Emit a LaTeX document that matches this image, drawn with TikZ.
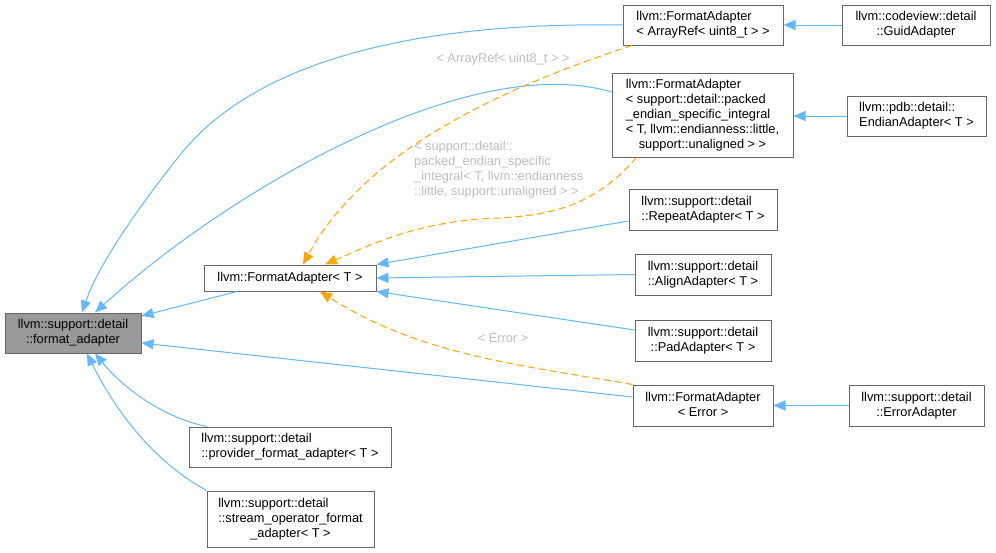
\documentclass[tikz,border=0pt]{standalone}
\usepackage{fontspec}
\setmainfont{Liberation Sans}
\usetikzlibrary{arrows.meta}
\definecolor{edgeblue}{HTML}{63B8FF}
\definecolor{edgeorange}{HTML}{FFA500}
\definecolor{boxline}{HTML}{666666}
\definecolor{labgray}{HTML}{BEBEBE}
\definecolor{rootfill}{HTML}{999999}
\newcommand{\mlab}[2]{\begin{tabular}{@{}l@{}}#1\\\multicolumn{1}{@{}c@{}}{#2}\end{tabular}}
\begin{document}
\begin{tikzpicture}[x=1pt,y=-1pt,
  cls/.style={draw=boxline, line width=1pt, fill=white, inner sep=0pt, font=\fontsize{12.8}{15}\selectfont},
  inh/.style={draw=edgeblue, line width=1pt, -{Triangle[length=12pt,width=10pt]}},
  tmpl/.style={draw=edgeorange, line width=1pt, dash pattern=on 7pt off 4pt, -{Triangle[length=12pt,width=10pt]}},
  elab/.style={text=labgray, inner sep=0pt, font=\fontsize{12.8}{15}\selectfont}
]
\fill[white] (0,0) rectangle (996,552);
\useasboundingbox (0,0) rectangle (996,552);

% nodes
\node[cls, fill=rootfill, minimum width=136pt, minimum height=40pt] (fa) at (73,333) {\mlab{llvm::support::detail}{::format\_adapter}};
\node[cls, minimum width=172pt, minimum height=26pt] (fat) at (290,278) {llvm::FormatAdapter< T >};
\node[cls, minimum width=160pt, minimum height=40pt] (ar) at (703,25) {\mlab{llvm::FormatAdapter}{< ArrayRef< uint8\_t > >}};
\node[cls, minimum width=148pt, minimum height=40pt] (guid) at (916,25) {\mlab{llvm::codeview::detail}{::GuidAdapter}};
\node[cls, minimum width=181pt, minimum height=84pt] (efa) at (702.5,115) {\mlab{llvm::FormatAdapter\\< support::detail::packed\\\_endian\_specific\_integral\\< T, llvm::endianness::little,}{support::unaligned > >}};
\node[cls, minimum width=139pt, minimum height=40pt] (ea) at (916.5,116) {\mlab{llvm::pdb::detail::}{EndianAdapter< T >}};
\node[cls, minimum width=148pt, minimum height=41pt] (rep) at (703,209.5) {\mlab{llvm::support::detail}{::RepeatAdapter< T >}};
\node[cls, minimum width=136pt, minimum height=41pt] (aln) at (703,274.5) {\mlab{llvm::support::detail}{::AlignAdapter< T >}};
\node[cls, minimum width=136pt, minimum height=41pt] (pad) at (703,340.5) {\mlab{llvm::support::detail}{::PadAdapter< T >}};
\node[cls, minimum width=140pt, minimum height=41pt] (efe) at (703,405.5) {\mlab{llvm::FormatAdapter}{< Error >}};
\node[cls, minimum width=135pt, minimum height=41pt] (ead) at (916.5,405.5) {\mlab{llvm::support::detail}{::ErrorAdapter}};
\node[cls, minimum width=202pt, minimum height=40pt] (prov) at (290,447) {\mlab{llvm::support::detail}{::provider\_format\_adapter< T >}};
\node[cls, minimum width=167pt, minimum height=56pt] (strm) at (290.5,519) {\mlab{llvm::support::detail\\::stream\_operator\_format}{\_adapter< T >}};

% edge labels
\node[elab] (lab1) at (503,59) {< ArrayRef< uint8\_t > >};
\node[elab, anchor=west, align=left] (lab2) at (414,170) {< support::detail::\\packed\_endian\_specific\\\_integral< T, llvm::endianness\\::little, support::unaligned > >};
\node[elab] (lab3) at (503,338) {< Error >};

% inheritance edges to format_adapter
\draw[inh] (ar.west) .. controls (430,22) and (260,55) .. (180,155) .. controls (148,195) and (100,260) .. ([xshift=9pt]fa.north);
\draw[inh] ([yshift=23pt]efa.west) .. controls (470,50) and (230,190) .. ([xshift=22pt]fa.north);
\draw[inh] ([xshift=-53pt]fat.south) -- ([yshift=17pt]fa.east);
\draw[inh] ([yshift=8.5pt]efe.west) -- ([yshift=-10pt]fa.east);
\draw[inh] ([xshift=-83pt]prov.north) .. controls (165,418) and (125,390) .. ([xshift=22pt]fa.south);
\draw[inh] (strm.north west) .. controls (160,465) and (120,420) .. ([xshift=14pt]fa.south);

% inheritance edges to FormatAdapter<T>
\draw[inh] ([yshift=-11.5pt]rep.west) -- (fat.north east);
\draw[inh] (aln.west) -- (fat.east);
\draw[inh] ([yshift=10.5pt]pad.west) -- (fat.south east);

% right column
\draw[inh] (guid.west) -- (ar.east);
\draw[inh] (ea.west) -- (ea.west -| efa.east);
\draw[inh] (ead.west) -- (efe.east);

% template instantiation edges
\draw[tmpl] ([xshift=-71pt]ar.south) .. controls (480,95) and (360,160) .. ([xshift=13pt]fat.north);
\draw[tmpl] ([xshift=-66pt]efa.south) .. controls (600,200) and (560,215) .. (500,218) .. controls (420,220) and (370,245) .. ([xshift=35pt]fat.north);
\draw[tmpl] (efe.north west) .. controls (520,365) and (420,355) .. ([xshift=30pt]fat.south);
\end{tikzpicture}
\end{document}
